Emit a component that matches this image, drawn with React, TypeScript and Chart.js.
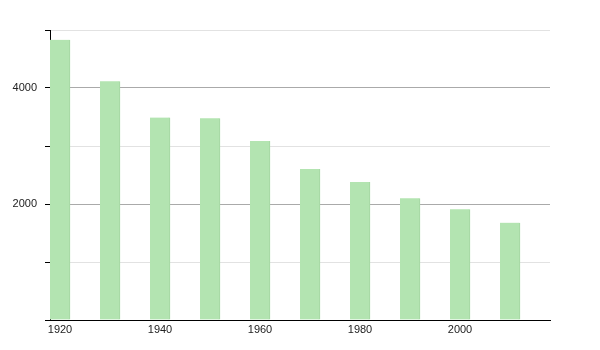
import React, { useEffect, useRef } from "react";
import { Chart, registerables } from "chart.js";

Chart.register(...registerables);

const years = [1920, 1930, 1940, 1950, 1960, 1970, 1980, 1990, 2000, 2010];
const population = [4830, 4115, 3490, 3480, 3086, 2603, 2379, 2098, 1908, 1678];
const yLabeled = [2000, 4000];
const xLabelStep = 20;

export default function App() {
  const ref = useRef<HTMLCanvasElement | null>(null);

  useEffect(() => {
    if (!ref.current) return;
    const font = { family: "'Liberation Sans', Arial, sans-serif", size: 11 };
    const chart = new Chart(ref.current, {
      type: "bar",
      data: {
        datasets: [
          {
            data: years.map((y, i) => ({ x: y, y: population[i] })),
            backgroundColor: "#b3e4b1",
            borderColor: "#a3d6a1",
            borderWidth: { top: 0, left: 0, bottom: 0, right: 1 },
            borderSkipped: false,
            barThickness: 20,
          },
        ],
      },
      options: {
        animation: false,
        responsive: true,
        maintainAspectRatio: false,
        layout: { padding: { left: 0, right: 50, top: 30, bottom: 0 } },
        plugins: { legend: { display: false }, tooltip: { enabled: false } },
        scales: {
          x: {
            type: "linear",
            offset: false,
            min: 1918,
            max: 2018,
            afterBuildTicks: (scale: any) => {
              scale.ticks = scale.ticks.filter(
                (t: any) => t.value % xLabelStep === 0
              );
            },
            afterFit: (scale: any) => {
              scale.height = 30;
            },
            grid: { drawOnChartArea: false, drawTicks: false, offset: false },
            border: { display: true, color: "#000", width: 1 },
            ticks: {
              color: "#222",
              font,
              padding: 3,
              maxRotation: 0,
              autoSkip: false,
              stepSize: 2,
              callback: (v: any) => String(v),
            },
          },
          y: {
            min: 0,
            max: 5000,
            afterFit: (scale: any) => {
              scale.width = 50;
            },
            grid: {
              color: (ctx: any) =>
                ctx.tick && yLabeled.includes(ctx.tick.value) ? "#aaaaaa" : "#e2e2e2",
              tickColor: "#000",
              tickLength: 5,
              drawTicks: true,
            },
            border: { display: true, color: "#000", width: 1 },
            ticks: {
              stepSize: 1000,
              color: "#222",
              font,
              padding: 8,
              callback: (v: any) => (yLabeled.includes(Number(v)) ? String(v) : ""),
            },
          },
        },
      },
    });
    return () => chart.destroy();
  }, []);

  return (
    <div style={{ position: "fixed", left: 0, top: 0, width: 600, height: 350, background: "#fff" }}>
      <canvas ref={ref} />
    </div>
  );
}
